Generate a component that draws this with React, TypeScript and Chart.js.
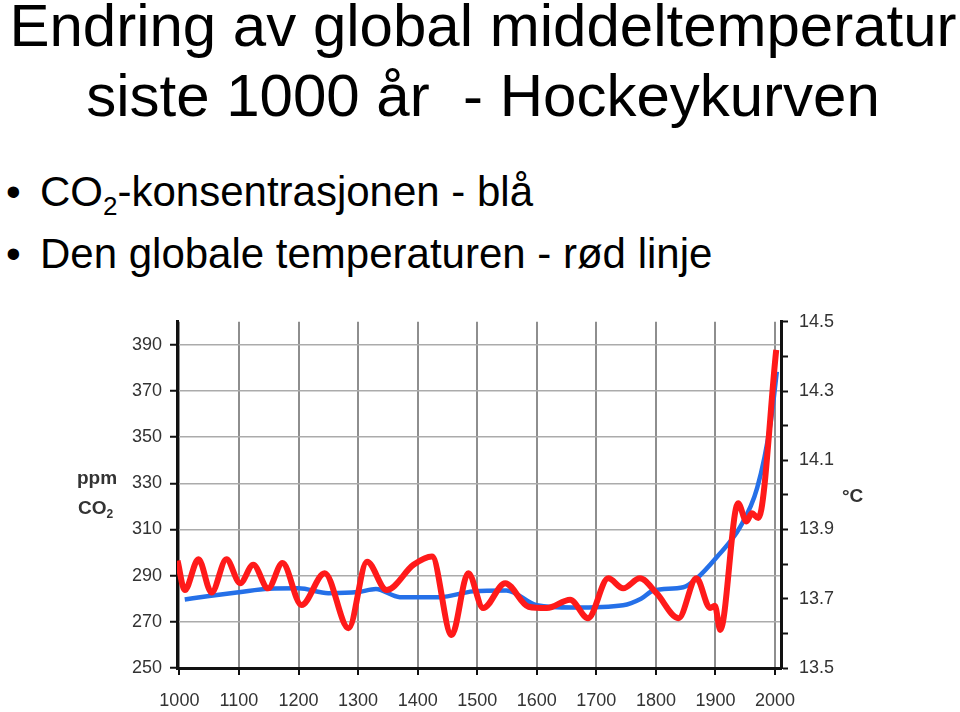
import React, { useEffect, useRef } from 'react';
import { Chart, registerables } from 'chart.js';

Chart.register(...registerables);

// CO2 concentration (ppm) – blue line, left axis
const co2Years = [1009, 1050, 1100, 1150, 1200, 1250, 1300, 1330, 1370, 1437, 1493, 1549, 1600, 1661, 1745, 1775, 1796, 1846, 1868, 1902, 1941, 1970, 1993, 2003];
const co2Ppm = [279.7, 281.2, 282.8, 284.3, 284.5, 282.4, 282.9, 284.2, 280.7, 280.7, 283.2, 283.6, 277.2, 276.2, 277.2, 280.0, 283.6, 285.0, 288.7, 298.0, 310.9, 328.0, 357.0, 378.4];

// Global temperature (°C) – red line, right axis
const tempYears = [997, 1009, 1032, 1054, 1079, 1102, 1124, 1149, 1173, 1205, 1244, 1284, 1315, 1348, 1393, 1424, 1457, 1485, 1510, 1547, 1586, 1617, 1656, 1686, 1720, 1745, 1773, 1801, 1838, 1868, 1891, 1899, 1908, 1938, 1952, 1961, 1972, 2002];
const tempC = [13.81, 13.725, 13.814, 13.718, 13.814, 13.745, 13.798, 13.73, 13.803, 13.682, 13.774, 13.615, 13.807, 13.725, 13.798, 13.822, 13.595, 13.774, 13.673, 13.745, 13.677, 13.673, 13.697, 13.644, 13.759, 13.73, 13.759, 13.716, 13.644, 13.759, 13.673, 13.68, 13.61, 13.976, 13.923, 13.947, 13.933, 14.419];

// Axis ticks / labels
const yearTicks = [1000, 1100, 1200, 1300, 1400, 1500, 1600, 1700, 1800, 1900, 2000];
const ppmLabels = [250, 270, 290, 310, 330, 350, 370, 390];
const tempLabels = ['13.5', '13.7', '13.9', '14.1', '14.3', '14.5'];

const tickFont = { family: '"Liberation Sans Narrow", "Liberation Sans", Arial, sans-serif', size: 18 };
const tickColor = '#333';

export default function App() {
  const canvasRef = useRef<HTMLCanvasElement | null>(null);

  useEffect(() => {
    if (!canvasRef.current) return;
    const chart = new Chart(canvasRef.current, {
      type: 'line',
      data: {
        datasets: [
          {
            label: 'Temperatur',
            data: tempYears.map((x, i) => ({ x, y: tempC[i] })),
            yAxisID: 'y1',
            borderColor: '#ff1a1a',
            borderWidth: 6,
            pointRadius: 0,
            cubicInterpolationMode: 'monotone',
            fill: false,
          },
          {
            label: 'CO2',
            data: co2Years.map((x, i) => ({ x, y: co2Ppm[i] })),
            yAxisID: 'y',
            borderColor: '#2570e8',
            borderWidth: 4.5,
            pointRadius: 0,
            cubicInterpolationMode: 'monotone',
            fill: false,
          },
        ],
      },
      options: {
        animation: false,
        responsive: true,
        maintainAspectRatio: false,
        layout: { padding: { top: 20, left: 0, right: 0, bottom: 0 } },
        plugins: { legend: { display: false }, tooltip: { enabled: false }, title: { display: false } },
        scales: {
          x: {
            type: 'linear',
            min: 996,
            max: 2010,
            afterBuildTicks: (s: any) => {
              s.ticks = yearTicks.map((v) => ({ value: v }));
            },
            afterFit: (s: any) => {
              s.height = 44;
            },
            ticks: {
              autoSkip: false,
              maxRotation: 0,
              padding: 15,
              font: tickFont,
              color: tickColor,
              callback: (v: any) => String(v),
            },
            grid: { color: '#8e8e8e', lineWidth: 2, tickColor: '#111', tickLength: 7, tickWidth: 2 },
            border: { color: '#111', width: 3 },
          },
          y: {
            position: 'left',
            min: 250,
            max: 400,
            afterFit: (s: any) => {
              s.width = 177;
            },
            ticks: {
              stepSize: 10,
              padding: 8,
              font: tickFont,
              color: tickColor,
              callback: (v: any) => (ppmLabels.includes(Math.round(v)) ? String(Math.round(v)) : ''),
            },
            grid: { color: '#ababab', lineWidth: 1.5, tickColor: '#111', tickLength: 7, tickWidth: 2 },
            border: { color: '#111', width: 3 },
          },
          y1: {
            position: 'right',
            min: 13.5,
            max: 14.5,
            afterFit: (s: any) => {
              s.width = 179;
            },
            ticks: {
              stepSize: 0.1,
              padding: 11,
              font: tickFont,
              color: tickColor,
              callback: (v: any) => {
                const t = (Math.round(v * 10) / 10).toFixed(1);
                return tempLabels.includes(t) ? t : '';
              },
            },
            grid: { drawOnChartArea: false, tickColor: '#111', tickLength: 7, tickWidth: 2 },
            border: { color: '#111', width: 3 },
          },
        },
      },
    });
    return () => chart.destroy();
  }, []);

  const sans = '"Liberation Sans", Arial, sans-serif';
  const axisLabel: React.CSSProperties = {
    position: 'absolute',
    fontFamily: sans,
    fontWeight: 'bold',
    fontSize: 19,
    lineHeight: '19px',
    color: '#333',
    whiteSpace: 'pre',
  };

  return (
    <div style={{ position: 'absolute', left: 0, top: 0, width: 960, height: 712, overflow: 'hidden', background: '#fff', fontFamily: sans, color: '#000' }}>
      <div style={{ position: 'absolute', left: 0, top: -9, width: 966, textAlign: 'center', fontSize: 60, lineHeight: '70px', whiteSpace: 'pre' }}>
        <div>Endring av global middeltemperatur</div>
        <div>siste 1000 år  - Hockeykurven</div>
      </div>
      <div style={{ position: 'absolute', left: 0, top: 161, width: 960, fontSize: 42, lineHeight: '62px', whiteSpace: 'pre' }}>
        <div style={{ position: 'relative', height: 62 }}>
          <span style={{ position: 'absolute', left: 6 }}>•</span>
          <span style={{ position: 'absolute', left: 40 }}>
            CO<span style={{ fontSize: 26, position: 'relative', top: 9 }}>2</span>-konsentrasjonen - blå
          </span>
        </div>
        <div style={{ position: 'relative', height: 62 }}>
          <span style={{ position: 'absolute', left: 6 }}>•</span>
          <span style={{ position: 'absolute', left: 40 }}>Den globale temperaturen - rød linje</span>
        </div>
      </div>
      <div style={{ position: 'absolute', left: 0, top: 300, width: 960, height: 412 }}>
        <canvas ref={canvasRef} />
      </div>
      <div style={{ ...axisLabel, left: 77, top: 468 }}>ppm</div>
      <div style={{ ...axisLabel, left: 78, top: 498 }}>
        CO<span style={{ fontSize: 12, position: 'relative', top: 4 }}>2</span>
      </div>
      <div style={{ ...axisLabel, left: 842, top: 486 }}>°C</div>
    </div>
  );
}
